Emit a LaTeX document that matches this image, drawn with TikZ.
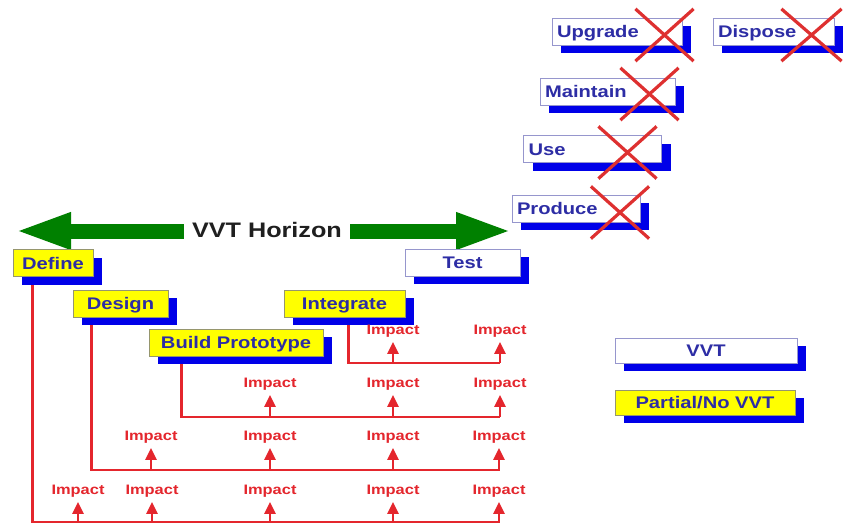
\documentclass[tikz,border=0pt]{standalone}
\usepackage{fontspec}
\newfontfamily\diagfont{Liberation Sans}[FakeStretch=1.2]
\usetikzlibrary{shadows,shapes.misc,arrows.meta,backgrounds}
\definecolor{txtblue}{RGB}{45,45,165}
\definecolor{shblue}{RGB}{0,0,232}
\definecolor{edgeblue}{RGB}{150,150,205}
\definecolor{edgegray}{RGB}{150,150,110}
\definecolor{boxyellow}{RGB}{255,255,0}
\definecolor{impred}{RGB}{228,38,45}
\definecolor{xred}{RGB}{222,48,48}
\definecolor{hgreen}{RGB}{0,128,0}
\begin{document}
\begin{tikzpicture}[x=1pt,y=-1pt,
  phase/.style={font=\diagfont\bfseries\fontsize{16.8}{18}\selectfont, text=txtblue,
    minimum height=27pt, inner xsep=5pt, inner ysep=0pt,
    text height=12pt, text depth=0pt, line width=0.8pt,
    general shadow={fill=shblue, shadow xshift=9pt, shadow yshift=-8pt}},
  vvt/.style={phase, fill=white, draw=edgeblue},
  novvt/.style={phase, fill=boxyellow, draw=edgegray},
  lbox/.style={text width=#1, align=left},
  cbox/.style={minimum width=#1},
  crossed/.style={cross out, draw=xred, line width=3.2pt, minimum width=55pt,
    minimum height=49pt, inner sep=0pt},
  implabel/.style={font=\diagfont\bfseries\fontsize{13.7}{14}\selectfont, text=impred,
    inner sep=1pt, outer ysep=6pt, text height=9.8pt, text depth=0pt},
  impline/.style={draw=impred, line width=2.8pt},
  imparrow/.style={impline, -{Triangle[length=12pt,width=11pt]}},
  horizon/.style={draw=hgreen, line width=15pt, -{Triangle[length=57pt,width=33pt]}}
]
\useasboundingbox (0,0) rectangle (844,527);

% VVT horizon double arrow
\node[font=\diagfont\bfseries\fontsize{21}{22}\selectfont, text=black!88,
  inner xsep=8pt, text height=15pt, text depth=0pt] (vvth) at (267,230) {VVT Horizon};
\coordinate (hl) at (14,231);
\coordinate (hr) at (513,231);
\draw[horizon] (vvth.west |- hl) -- (hl);
\draw[horizon] (vvth.east |- hr) -- (hr);

% life-cycle phases
\node[novvt, cbox=80pt]  (define)    at (53,263)     {Define};
\node[vvt,   cbox=115pt] (test)      at (462.5,262.5) {Test};
\node[novvt, cbox=95pt]  (design)    at (120.5,303.5) {Design};
\node[novvt, cbox=121pt] (integrate) at (344.5,303.5) {Integrate};
\node[novvt, cbox=174pt] (build)     at (236,342.5)  {Build Prototype};

\node[vvt, lbox=120pt] (upgrade)  at (617,31.5)   {Upgrade};
\node[vvt, lbox=111pt] (dispose)  at (773.5,31.5) {Dispose};
\node[vvt, lbox=125pt] (maintain) at (607.5,91.5) {Maintain};
\node[vvt, lbox=128pt] (use)      at (592.5,149)  {Use};
\node[vvt, lbox=118pt] (produce)  at (576,208.5)  {Produce};

% legend
\node[vvt,   cbox=182pt, minimum height=25pt] (legvvt) at (706,350.5) {VVT};
\node[novvt, cbox=180pt, minimum height=25pt] (legno)  at (705,402.5) {Partial/No VVT};

% phases without VVT
\node[crossed] (xup) at (664.5,35) {};
\node[crossed, minimum width=57pt] (xdis) at (811.5,35) {};
\node[crossed] (xmain) at (649.5,94) {};
\node[crossed] (xuse) at (627.5,152.5) {};
\node[crossed] (xprod) at (620,212.5) {};

% impact feeder lines, running under the phase boxes
\coordinate (r1) at (500,522);
\coordinate (r2) at (500,470);
\coordinate (r3) at (500,417);
\coordinate (r4) at (500,363);
\begin{scope}[on background layer]
  \fill[white] (0,0) rectangle (844,527);
  \draw[impline] ([xshift=19.5pt]define.south west) |- (r1);
  \draw[impline] ([xshift=19pt]design.south west) |- (r2);
  \draw[impline] ([xshift=33pt]build.south west) |- (r3);
  \draw[impline] ([xshift=65pt]integrate.south west) |- (r4);
\end{scope}

% impacts on later phases
\foreach \x [count=\i] in {393,500} {
  \node[implabel] (ia-\i) at (\x,330) {Impact};
  \draw[imparrow] (ia-\i.south |- r4) -- (ia-\i.south);
}
\foreach \x [count=\i] in {270,393,500} {
  \node[implabel] (ib-\i) at (\x,383) {Impact};
  \draw[imparrow] (ib-\i.south |- r3) -- (ib-\i.south);
}
\foreach \x [count=\i] in {151,270,393,499} {
  \node[implabel] (ic-\i) at (\x,436) {Impact};
  \draw[imparrow] (ic-\i.south |- r2) -- (ic-\i.south);
}
\foreach \x [count=\i] in {78,152,270,393,499} {
  \node[implabel] (id-\i) at (\x,490) {Impact};
  \draw[imparrow] (id-\i.south |- r1) -- (id-\i.south);
}
\end{tikzpicture}
\end{document}
